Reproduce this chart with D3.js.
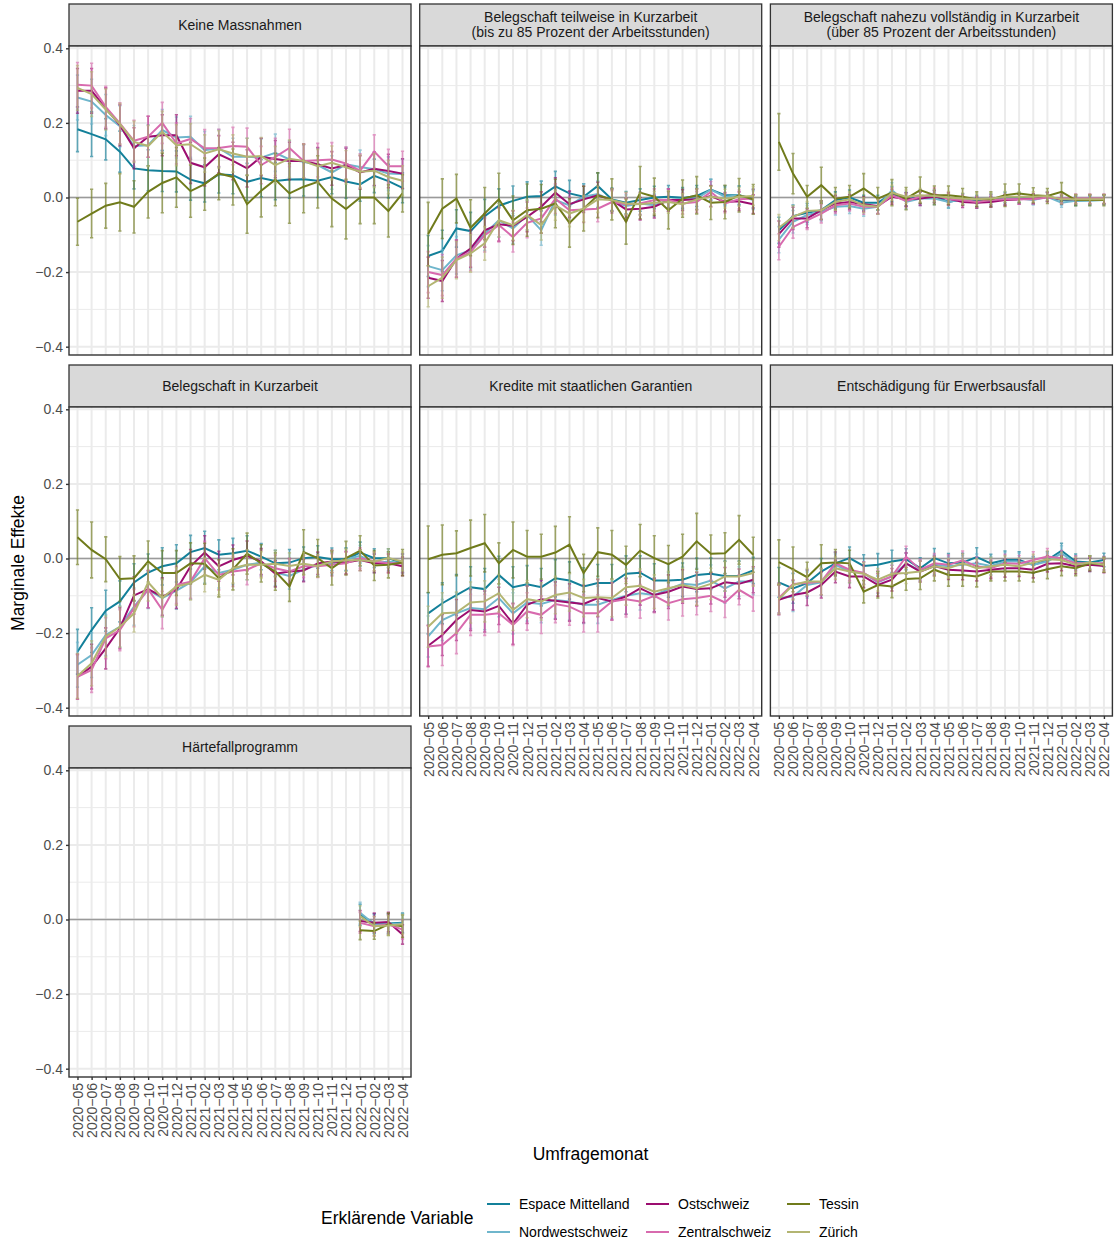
<!DOCTYPE html>
<html>
<head>
<meta charset="utf-8">
<script src="https://cdn.jsdelivr.net/npm/d3@7"></script>
<style>
  body { margin: 0; background: #fff; }
  text { font-family: "Liberation Sans", Arial, Helvetica, sans-serif; }
</style>
</head>
<body>
<svg id="chart" width="1115" height="1243"></svg>
<script>
// survey months
const months = ["2020-05","2020-06","2020-07","2020-08","2020-09","2020-10","2020-11","2020-12",
  "2021-01","2021-02","2021-03","2021-04","2021-05","2021-06","2021-07","2021-08","2021-09","2021-10","2021-11","2021-12",
  "2022-01","2022-02","2022-03","2022-04"];
const hfMonths = ["2022-01","2022-02","2022-03","2022-04"];

const regions = ["Espace Mittelland", "Nordwestschweiz", "Ostschweiz", "Zentralschweiz", "Tessin", "Zürich"];
const regionColors = ["#13809a", "#6fb6cc", "#9c0d70", "#d86aae", "#707b1b", "#b3b572"];

const facetTitles = [
  ["Keine Massnahmen"],
  ["Belegschaft teilweise in Kurzarbeit", "(bis zu 85 Prozent der Arbeitsstunden)"],
  ["Belegschaft nahezu vollständig in Kurzarbeit", "(über 85 Prozent der Arbeitsstunden)"],
  ["Belegschaft in Kurzarbeit"],
  ["Kredite mit staatlichen Garantien"],
  ["Entschädigung für Erwerbsausfall"],
  ["Härtefallprogramm"]
];

const yTicks = [-0.4, -0.2, 0, 0.2, 0.4];
const yMinor = [-0.3, -0.1, 0.1, 0.3];

// estimates per facet, rows in the order of regions
const estKeine = [
  [0.183,0.17,0.156,0.123,0.078,0.073,0.071,0.07,0.048,0.038,0.062,0.06,0.042,0.052,0.044,0.048,0.049,0.045,0.055,0.043,0.035,0.058,0.044,0.026],
  [0.268,0.257,0.221,0.191,0.138,0.14,0.181,0.161,0.163,0.127,0.132,0.109,0.109,0.107,0.12,0.102,0.096,0.087,0.067,0.089,0.082,0.076,0.064,0.063],
  [0.286,0.286,0.239,0.194,0.132,0.163,0.167,0.167,0.093,0.081,0.116,0.098,0.078,0.109,0.103,0.098,0.098,0.089,0.078,0.087,0.067,0.077,0.071,0.064],
  [0.302,0.3,0.243,0.199,0.152,0.163,0.2,0.145,0.157,0.132,0.133,0.138,0.136,0.087,0.109,0.133,0.098,0.1,0.102,0.091,0.072,0.123,0.084,0.084],
  [-0.065,-0.043,-0.022,-0.013,-0.025,0.015,0.039,0.054,0.017,0.036,0.064,0.055,-0.018,0.018,0.048,0.011,0.029,0.042,-0.003,-0.031,0,0,-0.036,0.011],
  [0.294,0.277,0.236,0.197,0.149,0.138,0.176,0.14,0.143,0.118,0.129,0.118,0.109,0.111,0.087,0.104,0.098,0.084,0.093,0.081,0.069,0.072,0.055,0.045]
];
const ciKeine = [
  [0.06,0.06,0.055,0.055,0.055,0.055,0.055,0.055,0.055,0.05,0.05,0.05,0.05,0.05,0.05,0.05,0.045,0.045,0.045,0.045,0.045,0.045,0.045,0.04],
  [0.063,0.065,0.06,0.077,0.07,0.07,0.08,0.08,0.07,0.07,0.07,0.075,0.078,0.07,0.07,0.08,0.07,0.07,0.075,0.08,0.07,0.07,0.07,0.05]
];

const estTeilweise = [
  [-0.157,-0.143,-0.083,-0.09,-0.05,-0.022,-0.009,0.002,0.004,0.03,0.011,0.002,0.031,-0.005,-0.014,-0.007,0,0.002,-0.001,0.004,0.021,0.006,0.006,-0.003],
  [-0.184,-0.195,-0.155,-0.141,-0.097,-0.061,-0.083,-0.047,-0.088,-0.007,-0.021,0.002,0.009,-0.009,-0.023,-0.016,-0.021,-0.007,-0.005,-0.003,0.021,0.002,0.006,-0.007],
  [-0.215,-0.224,-0.164,-0.137,-0.088,-0.072,-0.076,-0.052,-0.025,0.013,-0.018,-0.005,0.006,-0.007,-0.032,-0.03,-0.025,-0.007,-0.007,-0.005,0.004,-0.012,-0.01,-0.018],
  [-0.2,-0.208,-0.164,-0.146,-0.101,-0.074,-0.106,-0.068,-0.056,-0.003,-0.034,-0.032,-0.03,-0.012,-0.018,-0.016,-0.007,-0.007,-0.016,-0.012,0.015,-0.016,-0.005,-0.003],
  [-0.098,-0.03,-0.003,-0.081,-0.043,-0.005,-0.061,-0.034,-0.03,-0.016,-0.068,-0.03,0.006,-0.005,-0.065,0.013,0.002,-0.034,-0.003,0.006,-0.014,-0.012,0.006,-0.005],
  [-0.238,-0.215,-0.168,-0.15,-0.123,-0.061,-0.074,-0.047,-0.074,-0.021,-0.043,-0.03,-0.005,-0.007,-0.016,-0.018,-0.014,-0.012,-0.018,-0.005,0.002,-0.003,0.002,0.004]
];
const ciTeilweise = [
  [0.055,0.055,0.05,0.05,0.045,0.045,0.04,0.04,0.04,0.04,0.035,0.035,0.035,0.03,0.03,0.03,0.03,0.03,0.028,0.028,0.028,0.025,0.025,0.025],
  [0.085,0.08,0.065,0.075,0.07,0.07,0.065,0.07,0.065,0.065,0.065,0.06,0.06,0.055,0.06,0.07,0.05,0.05,0.05,0.05,0.045,0.045,0.045,0.04]
];

const estNahezu = [
  [-0.088,-0.05,-0.041,-0.034,-0.007,0,-0.014,-0.014,0.009,-0.005,0.002,0.004,-0.012,-0.005,-0.009,-0.005,0,0,-0.005,0.002,-0.007,-0.009,-0.007,-0.005],
  [-0.113,-0.065,-0.047,-0.038,-0.025,-0.023,-0.03,-0.025,0.02,-0.012,-0.003,-0.003,-0.012,-0.005,-0.014,-0.009,-0.005,-0.003,-0.007,0.002,-0.014,-0.009,-0.009,-0.007],
  [-0.098,-0.056,-0.056,-0.034,-0.016,-0.012,-0.018,-0.023,0.002,-0.005,-0.003,0.002,-0.003,-0.012,-0.014,-0.012,-0.007,-0.005,-0.003,0.002,-0.005,-0.005,-0.005,-0.005],
  [-0.132,-0.079,-0.061,-0.043,-0.021,-0.016,-0.025,-0.025,0.006,-0.009,0.002,0.009,-0.005,-0.007,-0.012,-0.007,-0.005,-0.005,-0.005,0,-0.003,-0.003,-0.003,-0.003],
  [0.149,0.064,0.002,0.033,-0.003,0.002,0.024,-0.003,0.013,-0.003,0.02,0.006,0.006,0.002,-0.005,-0.005,0.006,0.011,0.006,0.004,0.015,-0.007,-0.007,-0.007],
  [-0.081,-0.052,-0.036,-0.034,-0.012,-0.005,-0.021,-0.025,0.013,0.002,0.006,0.004,0,-0.003,-0.005,-0.003,0.002,0.002,0.002,0.004,-0.005,-0.005,-0.005,-0.005]
];
const ciNahezu = [
  [0.035,0.03,0.025,0.025,0.022,0.02,0.02,0.02,0.02,0.018,0.018,0.016,0.016,0.015,0.015,0.014,0.014,0.013,0.013,0.012,0.012,0.012,0.012,0.012],
  [0.076,0.054,0.03,0.048,0.03,0.03,0.04,0.03,0.035,0.03,0.035,0.025,0.025,0.022,0.02,0.02,0.03,0.025,0.02,0.02,0.025,0.015,0.015,0.015]
];

const estKurzarbeit = [
  [-0.25,-0.192,-0.14,-0.115,-0.064,-0.038,-0.021,-0.013,0.017,0.028,0.01,0.014,0.021,0.005,-0.013,-0.011,0.001,0.004,-0.002,-0.002,0.016,0.001,0.001,-0.013],
  [-0.285,-0.259,-0.205,-0.183,-0.129,-0.084,-0.106,-0.086,-0.064,-0.021,-0.039,-0.03,-0.017,-0.011,-0.038,-0.047,-0.03,-0.017,-0.014,-0.002,0.007,-0.013,-0.008,-0.013],
  [-0.317,-0.29,-0.241,-0.187,-0.099,-0.082,-0.102,-0.084,-0.021,0.016,-0.021,-0.004,0.007,-0.008,-0.041,-0.035,-0.032,-0.013,-0.008,-0.011,-0.004,-0.013,-0.013,-0.021],
  [-0.317,-0.299,-0.214,-0.192,-0.133,-0.082,-0.138,-0.071,-0.062,0.001,-0.044,-0.035,-0.03,-0.013,-0.026,-0.035,-0.021,-0.021,-0.017,-0.013,0.001,-0.008,-0.013,-0.013],
  [0.057,0.023,-0.002,-0.055,-0.053,-0.008,-0.039,-0.039,-0.013,-0.014,-0.053,-0.029,0.013,-0.013,-0.035,-0.075,0.017,0.001,-0.026,0.001,0.021,-0.019,-0.017,-0.011],
  [-0.315,-0.281,-0.209,-0.183,-0.147,-0.064,-0.106,-0.075,-0.066,-0.044,-0.057,-0.026,-0.017,-0.017,-0.014,-0.02,-0.014,-0.02,-0.008,-0.005,-0.005,-0.008,0.001,-0.008]
];
const ciKurzarbeit = [
  [0.06,0.06,0.055,0.055,0.05,0.05,0.05,0.05,0.045,0.045,0.04,0.04,0.04,0.035,0.035,0.035,0.03,0.03,0.03,0.03,0.028,0.025,0.025,0.025],
  [0.073,0.075,0.06,0.06,0.06,0.055,0.06,0.06,0.055,0.055,0.05,0.055,0.055,0.05,0.05,0.04,0.06,0.05,0.045,0.045,0.04,0.04,0.035,0.035]
];

const estKredite = [
  [-0.147,-0.12,-0.098,-0.077,-0.082,-0.044,-0.077,-0.069,-0.077,-0.053,-0.059,-0.075,-0.066,-0.066,-0.041,-0.038,-0.059,-0.059,-0.057,-0.044,-0.041,-0.047,-0.047,-0.032],
  [-0.209,-0.165,-0.147,-0.133,-0.136,-0.106,-0.147,-0.118,-0.122,-0.111,-0.115,-0.124,-0.124,-0.111,-0.1,-0.093,-0.098,-0.082,-0.068,-0.071,-0.059,-0.08,-0.062,-0.062],
  [-0.234,-0.205,-0.165,-0.138,-0.142,-0.127,-0.175,-0.124,-0.109,-0.113,-0.118,-0.122,-0.106,-0.115,-0.102,-0.08,-0.098,-0.089,-0.075,-0.082,-0.08,-0.064,-0.068,-0.057],
  [-0.236,-0.232,-0.2,-0.151,-0.151,-0.147,-0.178,-0.142,-0.151,-0.122,-0.129,-0.147,-0.147,-0.115,-0.109,-0.115,-0.1,-0.12,-0.109,-0.106,-0.1,-0.118,-0.084,-0.106],
  [-0.002,0.01,0.014,0.028,0.041,-0.013,0.023,0.005,0.005,0.016,0.037,-0.039,0.017,0.01,-0.017,0.021,0.001,-0.015,0.005,0.046,0.013,0.014,0.05,0.01],
  [-0.183,-0.147,-0.145,-0.118,-0.115,-0.093,-0.138,-0.109,-0.115,-0.098,-0.091,-0.106,-0.104,-0.106,-0.077,-0.073,-0.089,-0.08,-0.071,-0.08,-0.068,-0.048,-0.048,-0.039]
];
const ciKredite = [
  [0.055,0.055,0.055,0.055,0.055,0.05,0.055,0.05,0.05,0.05,0.05,0.05,0.05,0.05,0.048,0.045,0.045,0.045,0.045,0.045,0.042,0.04,0.04,0.035],
  [0.089,0.08,0.06,0.075,0.077,0.055,0.075,0.07,0.06,0.07,0.075,0.05,0.065,0.065,0.05,0.07,0.06,0.05,0.06,0.075,0.05,0.055,0.065,0.047]
];

const estErwerb = [
  [-0.064,-0.08,-0.066,-0.035,-0.013,0.001,-0.02,-0.017,-0.008,-0.002,-0.026,0.001,-0.013,-0.011,0.004,-0.013,-0.004,-0.004,-0.017,-0.004,0.021,-0.008,-0.011,-0.004],
  [-0.106,-0.102,-0.071,-0.064,-0.017,-0.035,-0.039,-0.064,-0.048,-0.014,-0.032,-0.017,-0.021,-0.017,-0.013,-0.02,-0.008,-0.008,-0.017,-0.008,0.014,-0.013,-0.017,-0.013],
  [-0.111,-0.098,-0.091,-0.071,-0.035,-0.048,-0.048,-0.071,-0.057,-0.013,-0.035,-0.02,-0.03,-0.032,-0.035,-0.03,-0.026,-0.026,-0.03,-0.014,-0.013,-0.021,-0.017,-0.02],
  [-0.106,-0.068,-0.066,-0.062,-0.013,-0.03,-0.039,-0.062,-0.048,0.005,-0.03,-0.013,-0.017,-0.005,-0.021,-0.026,-0.013,-0.014,-0.004,0.005,0.001,-0.013,-0.013,-0.013],
  [-0.01,-0.029,-0.05,-0.013,-0.011,-0.013,-0.089,-0.071,-0.075,-0.055,-0.053,-0.03,-0.044,-0.044,-0.048,-0.035,-0.035,-0.035,-0.038,-0.029,-0.021,-0.026,-0.013,-0.017],
  [-0.109,-0.071,-0.062,-0.062,-0.026,-0.035,-0.041,-0.057,-0.041,-0.039,-0.035,-0.021,-0.026,-0.013,-0.026,-0.021,-0.017,-0.021,-0.011,-0.002,-0.004,-0.017,-0.011,-0.017]
];
const ciErwerb = [
  [0.04,0.04,0.035,0.035,0.03,0.03,0.03,0.03,0.03,0.028,0.028,0.026,0.026,0.025,0.025,0.024,0.024,0.022,0.022,0.022,0.02,0.02,0.018,0.018],
  [0.06,0.06,0.04,0.05,0.035,0.035,0.03,0.035,0.03,0.03,0.03,0.03,0.03,0.03,0.028,0.025,0.025,0.025,0.025,0.025,0.025,0.02,0.02,0.02]
];

const estHaerte = [
  [0.013,-0.011,-0.011,-0.009],
  [0.018,-0.013,-0.013,-0.011],
  [-0.004,-0.009,-0.007,-0.04],
  [-0.009,-0.018,-0.013,-0.027],
  [-0.029,-0.031,-0.013,-0.018],
  [0.009,-0.018,-0.016,-0.013]
];
const ciHaerte = [
  [0.028,0.026,0.026,0.026],
  [0.025,0.022,0.03,0.03]
];

const facets = [
  { est: estKeine, ci: ciKeine, m: months },
  { est: estTeilweise, ci: ciTeilweise, m: months },
  { est: estNahezu, ci: ciNahezu, m: months },
  { est: estKurzarbeit, ci: ciKurzarbeit, m: months },
  { est: estKredite, ci: ciKredite, m: months },
  { est: estErwerb, ci: ciErwerb, m: months },
  { est: estHaerte, ci: ciHaerte, m: hfMonths }
];

const svg = d3.select("#chart");
const panelW = 342, panelH = 309, stripH = 42;
const colX = [69, 419.7, 770.4];
const rowY = [4, 365, 726];

const x = d3.scalePoint().domain(months).range([0, panelW]).padding(0.6);
const y = d3.scaleLinear().domain([-0.4223, 0.4062]).range([panelH, 0]);
const line = d3.line().x(d => x(d.m)).y(d => y(d.v));
const minus = s => s.replace(/-/g, "\u2212");

facets.forEach((f, fi) => {
  const r = Math.floor(fi / 3), c = fi % 3;
  const g = svg.append("g").attr("transform", `translate(${colX[c]},${rowY[r]})`);

  // strip
  g.append("rect").attr("width", panelW).attr("height", stripH)
    .attr("fill", "#d9d9d9").attr("stroke", "#333").attr("stroke-width", 1.3);
  const lines = facetTitles[fi];
  lines.forEach((t, li) => {
    const cy = lines.length == 1 ? stripH / 2 : stripH / 2 + (li - 0.5) * 15;
    g.append("text").attr("x", panelW / 2).attr("y", cy).attr("dy", "0.35em")
      .attr("text-anchor", "middle").attr("font-size", 14).attr("fill", "#1a1a1a").text(t);
  });

  const p = g.append("g").attr("transform", `translate(0,${stripH})`);
  p.append("rect").attr("width", panelW).attr("height", panelH).attr("fill", "#fff");

  // grid
  p.selectAll(".ymin").data(yMinor).join("line")
    .attr("x1", 0).attr("x2", panelW).attr("y1", d => y(d)).attr("y2", d => y(d))
    .attr("stroke", "#ebebeb").attr("stroke-width", 1);
  p.selectAll(".ymaj").data(yTicks).join("line")
    .attr("x1", 0).attr("x2", panelW).attr("y1", d => y(d)).attr("y2", d => y(d))
    .attr("stroke", "#ebebeb").attr("stroke-width", 2);
  p.selectAll(".xmaj").data(months).join("line")
    .attr("y1", 0).attr("y2", panelH).attr("x1", d => x(d)).attr("x2", d => x(d))
    .attr("stroke", "#ebebeb").attr("stroke-width", 2);

  // zero line
  p.append("line").attr("x1", 0).attr("x2", panelW).attr("y1", y(0)).attr("y2", y(0))
    .attr("stroke", "#9a9a9a").attr("stroke-width", 1.6);

  regions.forEach((reg, k) => {
    const ciRow = k == 4 ? f.ci[1] : f.ci[0];
    const data = f.est[k].map((v, i) => ({ m: f.m[i], v: v, lo: v - ciRow[i], hi: v + ciRow[i] }));
    p.append("path").datum(data).attr("d", line)
      .attr("fill", "none").attr("stroke", regionColors[k]).attr("stroke-width", 2);
    p.append("g").selectAll("path").data(data).join("path")
      .attr("d", d => {
        const cx = x(d.m), a = y(d.lo), b = y(d.hi);
        return `M${cx - 1.6},${a}H${cx + 1.6}M${cx},${a}V${b}M${cx - 1.6},${b}H${cx + 1.6}`;
      })
      .attr("fill", "none").attr("stroke", regionColors[k]).attr("stroke-width", 1.6)
      .attr("stroke-opacity", 0.65);
  });

  // border
  p.append("rect").attr("width", panelW).attr("height", panelH)
    .attr("fill", "none").attr("stroke", "#333").attr("stroke-width", 1.4);

  // y axis on first column
  if (c == 0) {
    const ya = p.append("g").call(d3.axisLeft(y).tickValues(yTicks).tickFormat(d3.format(".1f")).tickSize(3).tickPadding(3));
    ya.select(".domain").remove();
    ya.selectAll(".tick line").attr("stroke", "#333").attr("stroke-width", 1.4);
    ya.selectAll(".tick text").attr("font-size", 14).attr("fill", "#4d4d4d")
      .style("font-family", '"Liberation Sans", Arial, sans-serif');
  }

  // x axis where there is no panel below
  if (fi + 3 >= facets.length) {
    const xa = p.append("g").attr("transform", `translate(0,${panelH})`)
      .call(d3.axisBottom(x).tickSize(3).tickFormat(minus));
    xa.select(".domain").remove();
    xa.selectAll(".tick line").attr("stroke", "#333").attr("stroke-width", 1.4);
    xa.selectAll(".tick text").attr("transform", "rotate(-90)")
      .attr("x", -6).attr("y", 0).attr("dy", "0.35em").attr("text-anchor", "end")
      .attr("font-size", 14).attr("fill", "#4d4d4d")
      .style("font-family", '"Liberation Sans", Arial, sans-serif');
  }
});

// axis titles
svg.append("text").attr("x", 590.5).attr("y", 1154).attr("dy", "0.35em")
  .attr("text-anchor", "middle").attr("font-size", 17.5).attr("fill", "#000").text("Umfragemonat");
svg.append("text").attr("transform", "translate(18,563) rotate(-90)").attr("dy", "0.35em")
  .attr("text-anchor", "middle").attr("font-size", 17.5).attr("fill", "#000").text("Marginale Effekte");

// legend
const legend = svg.append("g");
legend.append("text").attr("x", 321).attr("y", 1218).attr("dy", "0.35em")
  .attr("font-size", 17.5).attr("fill", "#000").text("Erklärende Variable");
const keyX = [487, 646, 787];
const keyY = [1204, 1232];
regions.forEach((reg, k) => {
  const cx = keyX[Math.floor(k / 2)], cy = keyY[k % 2];
  legend.append("line").attr("x1", cx).attr("x2", cx + 23).attr("y1", cy).attr("y2", cy)
    .attr("stroke", regionColors[k]).attr("stroke-width", 2);
  legend.append("text").attr("x", cx + 32).attr("y", cy).attr("dy", "0.35em")
    .attr("font-size", 14).attr("fill", "#000").text(reg);
});
</script>
</body>
</html>
